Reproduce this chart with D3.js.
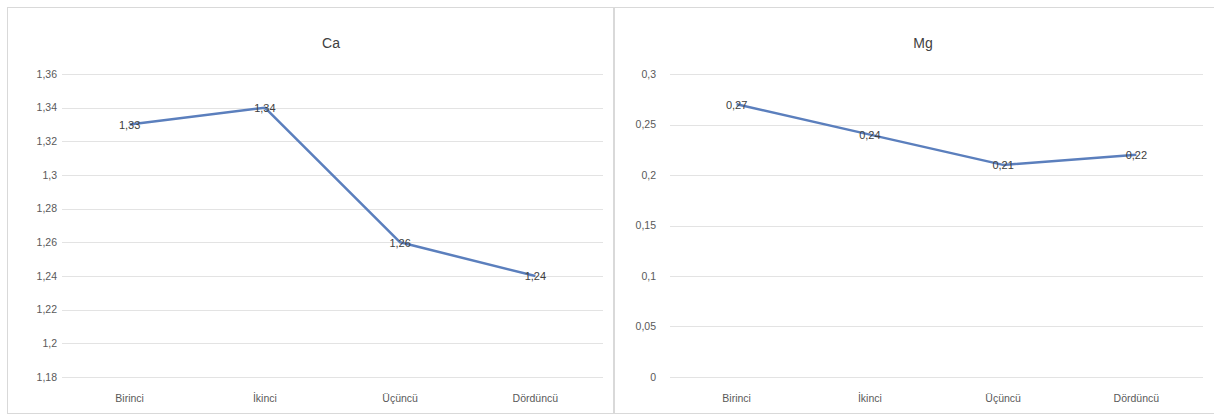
<!DOCTYPE html>
<html>
<head>
<meta charset="utf-8">
<script src="https://cdn.jsdelivr.net/npm/d3@7"></script>
<style>
  html, body { margin: 0; padding: 0; background: #fff; }
  svg { display: block; }
  text { font-family: "Liberation Sans", "DejaVu Sans", sans-serif; }
</style>
</head>
<body>
<svg id="chart" width="1214" height="418"></svg>
<script>
// Quarter labels shared by both panels
const categories = ["Birinci", "İkinci", "Üçüncü", "Dördüncü"];

// Calcium series and its axis ticks
const caValues = [1.33, 1.34, 1.26, 1.24];
const caTicks = [1.18, 1.2, 1.22, 1.24, 1.26, 1.28, 1.3, 1.32, 1.34, 1.36];

// Magnesium series and its axis ticks
const mgValues = [0.27, 0.24, 0.21, 0.22];
const mgTicks = [0, 0.05, 0.1, 0.15, 0.2, 0.25, 0.3];

const svg = d3.select("#chart");
const fmt = v => String(+v.toFixed(3)).replace(".", ",");

// Panel frames
svg.append("rect").attr("x", 7.5).attr("y", 7.5).attr("width", 606).attr("height", 406)
  .attr("fill", "#fff").attr("stroke", "#d9d9d9");
svg.append("rect").attr("x", 614.5).attr("y", 7.5).attr("width", 606).attr("height", 406)
  .attr("fill", "#fff").attr("stroke", "#d9d9d9");

function panel(opts) {
  const { title, values, ticks, x0, x1, titleX, labelX } = opts;
  const top = 74, bottom = 377;

  const x = d3.scaleBand().domain(categories).range([x0, x1]);
  const y = d3.scaleLinear().domain([ticks[0], ticks[ticks.length - 1]]).range([bottom, top]);

  const g = svg.append("g");

  // Horizontal gridlines
  g.selectAll("line.grid").data(ticks).enter().append("line")
    .attr("x1", x0).attr("x2", x1)
    .attr("y1", d => Math.round(y(d)) + 0.5).attr("y2", d => Math.round(y(d)) + 0.5)
    .attr("stroke", "#e3e3e3").attr("stroke-width", 1);

  // Y-axis tick labels
  g.selectAll("text.ytick").data(ticks).enter().append("text")
    .attr("x", labelX).attr("y", d => y(d)).attr("dy", "0.35em")
    .attr("text-anchor", "end").attr("font-size", 10.5).attr("fill", "#595959")
    .text(fmt);

  // Category labels
  g.selectAll("text.xtick").data(categories).enter().append("text")
    .attr("x", d => x(d) + x.bandwidth() / 2).attr("y", 398).attr("dy", "0.35em")
    .attr("text-anchor", "middle").attr("font-size", 10.5).attr("fill", "#595959")
    .text(d => d);

  // Title
  g.append("text").attr("x", titleX).attr("y", 43).attr("dy", "0.35em")
    .attr("text-anchor", "middle").attr("font-size", 14).attr("fill", "#404040")
    .text(title);

  // Series line
  const line = d3.line()
    .x((d, i) => x(categories[i]) + x.bandwidth() / 2)
    .y(d => y(d));
  g.append("path").datum(values).attr("d", line)
    .attr("fill", "none").attr("stroke", "#5b7fbd").attr("stroke-width", 2.5)
    .attr("stroke-linejoin", "round");

  // Value labels centred on each point
  g.selectAll("text.val").data(values).enter().append("text")
    .attr("x", (d, i) => x(categories[i]) + x.bandwidth() / 2)
    .attr("y", d => y(d)).attr("dy", "0.4em")
    .attr("text-anchor", "middle").attr("font-size", 11).attr("fill", "#404040")
    .text(fmt);
}

panel({ title: "Ca", values: caValues, ticks: caTicks, x0: 62, x1: 603, titleX: 331, labelX: 57 });
panel({ title: "Mg", values: mgValues, ticks: mgTicks, x0: 670, x1: 1203, titleX: 923, labelX: 656 });
</script>
</body>
</html>
